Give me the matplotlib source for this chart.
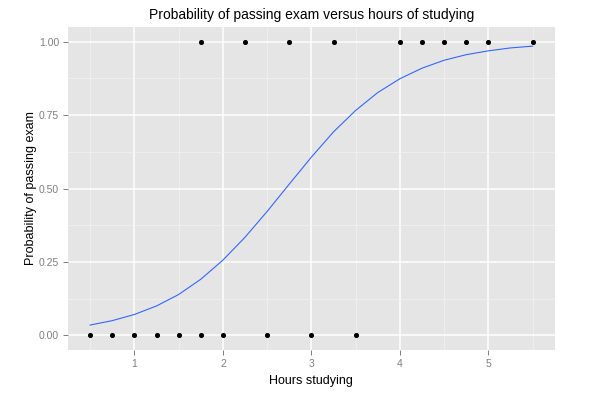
import numpy as np
import matplotlib.pyplot as plt
from matplotlib.ticker import MultipleLocator

# observed data: hours studied and pass (1) / fail (0)
hours = [0.50, 0.75, 1.00, 1.25, 1.50, 1.75, 1.75, 2.00, 2.25, 2.50,
         2.75, 3.00, 3.25, 3.50, 4.00, 4.25, 4.50, 4.75, 5.00, 5.50]
passed = [0, 0, 0, 0, 0, 0, 1, 0, 1, 0, 1, 0, 1, 0, 1, 1, 1, 1, 1, 1]

# fitted curve
curve_x = [0.50, 0.75, 1.00, 1.25, 1.50, 1.75, 2.00, 2.25, 2.50, 2.75, 3.00,
           3.25, 3.50, 3.75, 4.00, 4.25, 4.50, 4.75, 5.00, 5.25, 5.50]
curve_y = [0.035, 0.050, 0.071, 0.100, 0.139, 0.191, 0.256, 0.334, 0.422, 0.515, 0.607,
           0.693, 0.766, 0.827, 0.874, 0.910, 0.937, 0.956, 0.969, 0.979, 0.985]

plt.rcParams['font.family'] = ['Liberation Sans', 'DejaVu Sans']

fig = plt.figure(figsize=(6.05, 3.98), dpi=100)
ax = fig.add_axes([0.1124, 0.1206, 0.8046, 0.8114])
ax.set_facecolor('#E5E5E5')

ax.xaxis.set_major_locator(MultipleLocator(1))
ax.xaxis.set_minor_locator(MultipleLocator(0.5))
ax.yaxis.set_major_locator(MultipleLocator(0.25))
ax.yaxis.set_minor_locator(MultipleLocator(0.125))
ax.grid(which='major', color='white', linewidth=1.1)
ax.grid(which='minor', color='#F2F2F2', linewidth=0.5)
ax.set_axisbelow(True)

ax.plot(curve_x, curve_y, color='#3366FF', linewidth=0.8)
ax.scatter(hours, passed, s=7, color='black', zorder=3)

ax.set_xlim(0.25, 5.75)
ax.set_ylim(-0.05, 1.05)
ax.yaxis.set_major_formatter(plt.FuncFormatter(lambda v, p: f'{v:.2f}'))

for s in ax.spines.values():
    s.set_visible(False)
ax.tick_params(which='major', length=3.5, width=0.7, color='#7F7F7F',
               labelcolor='#7F7F7F', labelsize=7.5, pad=3)
ax.tick_params(which='minor', length=0)

ax.set_title('Probability of passing exam versus hours of studying', fontsize=10, pad=6)
ax.set_xlabel('Hours studying', fontsize=9, labelpad=4)
ax.set_ylabel('Probability of passing exam', fontsize=9, labelpad=1)

fig.savefig('out.png', dpi=100)
